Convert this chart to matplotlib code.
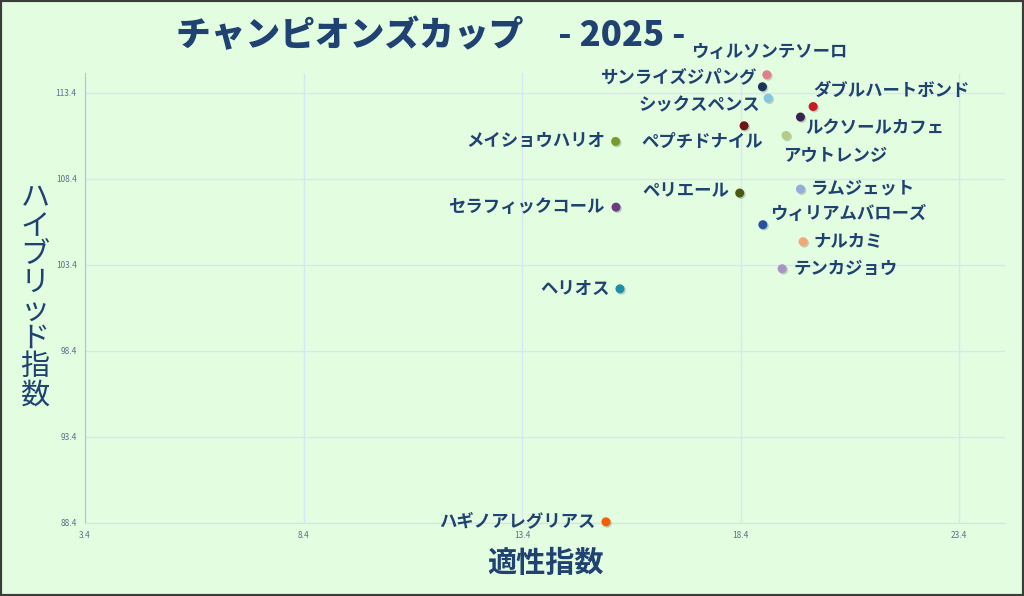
import matplotlib.pyplot as plt
import matplotlib.patheffects as pe
from matplotlib.patches import Rectangle

# データ (適性指数, ハイブリッド指数)
horses = ['ウィルソンテソーロ', 'サンライズジパング', 'シックスペンス', 'ダブルハートボンド',
          'ルクソールカフェ', 'ペプチドナイル', 'アウトレンジ', 'ラムジェット',
          'ペリエール', 'ウィリアムバローズ', 'ナルカミ', 'テンカジョウ',
          'メイショウハリオ', 'セラフィックコール', 'ヘリオス', 'ハギノアレグリアス']
tekisei = [19.0, 18.9, 19.03, 20.06, 19.77, 18.48, 19.44, 19.77,
           18.38, 18.91, 19.83, 19.35, 15.54, 15.55, 15.64, 15.32]
hybrid = [114.45, 113.75, 113.09, 112.6, 111.99, 111.48, 110.92, 107.8,
          107.57, 105.73, 104.74, 103.17, 110.57, 106.75, 102.0, 88.45]
ticks_x = [3.4, 8.4, 13.4, 18.4, 23.4]
ticks_y = [88.4, 93.4, 98.4, 103.4, 108.4, 113.4]

colors = ['#e0808a', '#1a3558', '#86c4e4', '#c41e24', '#3a2250', '#6e1416',
          '#b4cc88', '#94acdc', '#4a5a16', '#2452a0', '#f4a674', '#a894c4',
          '#7a9a2e', '#6a3a82', '#1f8ea8', '#f06000']

# ラベル位置 (ピクセルオフセット, 揃え)
label_pos = {
    'ウィルソンテソーロ': (2, 23, 'center'),
    'サンライズジパング': (-5, 10, 'right'),
    'シックスペンス': (-8, -7, 'right'),
    'ダブルハートボンド': (0, 16, 'left'),
    'ルクソールカフェ': (5, -11, 'left'),
    'ペプチドナイル': (19, -16, 'right'),
    'アウトレンジ': (-3, -20, 'left'),
    'ラムジェット': (10, 1, 'left'),
    'ペリエール': (-10, 2, 'right'),
    'ウィリアムバローズ': (7, 11, 'left'),
    'ナルカミ': (10, 1, 'left'),
    'テンカジョウ': (11, 0, 'left'),
    'メイショウハリオ': (-10, 1, 'right'),
    'セラフィックコール': (-11, 0, 'right'),
    'ヘリオス': (-10, 0, 'right'),
    'ハギノアレグリアス': (-10, 1, 'right'),
}

BG = '#e3fde0'
NAVY = '#1f4272'
JP = ['Noto Sans CJK JP', 'DejaVu Sans']

plt.rcParams['font.family'] = JP

fig = plt.figure(figsize=(10.24, 5.96), dpi=100, facecolor=BG)
ax = fig.add_axes([85 / 1024, 1 - 522.7 / 596, (1005 - 85) / 1024, (522.7 - 73) / 596])
ax.set_facecolor(BG)

ax.scatter(tekisei, hybrid, s=42, c=colors, zorder=3, clip_on=False, linewidths=0,
           path_effects=[pe.SimplePatchShadow(offset=(1, -1), shadow_rgbFace='#6e7e6c',
                                              alpha=0.35),
                         pe.Normal()])

for name, x, y in zip(horses, tekisei, hybrid):
    dx, dy, ha = label_pos[name]
    ax.annotate(name, (x, y), xytext=(dx, dy), textcoords='offset pixels',
                ha=ha, va='center', fontsize=12.5, fontweight='bold', color=NAVY,
                zorder=4, annotation_clip=False)

ax.set_xlim(3.4, 24.45)
ax.set_ylim(88.4, 114.55)
ax.set_xticks(ticks_x)
ax.set_yticks(ticks_y)
ax.set_xticklabels([f'{t:.1f}' for t in ticks_x])
ax.set_yticklabels([f'{t:.1f}' for t in ticks_y])
ax.tick_params(length=0, labelsize=6, labelcolor='#5a7090', pad=6)
ax.grid(True, color='#d6e6f6', linewidth=1)
ax.set_axisbelow(True)
for s in ['top', 'right']:
    ax.spines[s].set_visible(False)
ax.spines['left'].set_color('#a8c4ec')
ax.spines['bottom'].set_color('#d0e2f4')

fig.text(176 / 1024, 1 - 36 / 596, 'チャンピオンズカップ　- 2025 -', ha='left', va='center',
         fontsize=25, fontweight='black', color=NAVY)
fig.text(545 / 1024, 1 - 563 / 596, '適性指数', ha='center', va='center',
         fontsize=21, fontweight='bold', color=NAVY)
fig.text(35 / 1024, 1 - 297 / 596, '\n'.join('ハイブリッド指数'), ha='center', va='center',
         fontsize=21, color=NAVY, linespacing=0.92)

fig.patches.append(Rectangle((0, 0), 1, 1, transform=fig.transFigure, fill=False,
                             edgecolor='#3c3c3c', linewidth=3, zorder=10))

fig.savefig('out.png', dpi=100, facecolor=BG)
